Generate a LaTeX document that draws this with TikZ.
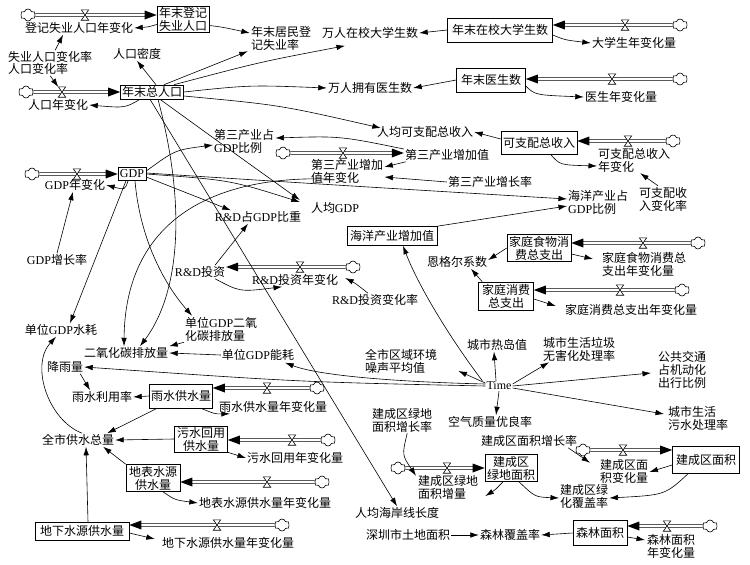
\documentclass[tikz,border=0pt]{standalone}
\usepackage{fontspec}
\setmainfont{Noto Sans CJK SC}
\newfontfamily\lat{Liberation Serif}
\usetikzlibrary{arrows.meta,shapes.symbols,calc}
\newcommand\dfs{\fontsize{12}{13}\selectfont}
\newcommand\gdpx{{\lat GDP}}
\newcommand\rdx{{\lat R\&D}}
\tikzset{
  lab/.style={font=\dfs, inner sep=1pt, align=center},
  stock/.style={draw, line width=0.6pt, inner sep=0pt, align=center, font=\dfs},
  pipe/.style={draw, double, double distance=2.6pt, line width=0.6pt},
  link/.style={-{Latex[length=8.5pt,width=5.5pt]}, line width=0.6pt},
  cloudn/.style={cloud, cloud puffs=6, aspect=1.3, draw, line width=0.6pt, minimum width=15pt, minimum height=12pt, inner sep=0pt, fill=white},
  valvebox/.style={inner sep=0pt, minimum width=7pt, minimum height=10pt}
}
\newcommand\pipeR[2]{\draw[pipe] (#1.east) -- ($(#1 -| #2.west)+(-10pt,0pt)$);
  \fill (#1 -| #2.west) -- ++(-12pt,4.5pt) -- ++(0pt,-9pt) -- cycle;}
\newcommand\pipeL[2]{\draw[pipe] (#1.west) -- ($(#1 -| #2.east)+(10pt,0pt)$);
  \fill (#1 -| #2.east) -- ++(12pt,4.5pt) -- ++(0pt,-9pt) -- cycle;}
\newcommand\valve[2]{\node[valvebox] (#1) at (#2) {};
  \filldraw[fill=white, line width=0.6pt] (#1.north west) -- (#1.north east) -- (#1.south west) -- (#1.south east) -- cycle;}
\begin{document}
\begin{tikzpicture}[x=1pt,y=-1pt]
\useasboundingbox[fill=white] (0,0) rectangle (750,565);
% ---------- stocks ----------
\node[stock, minimum width=52pt, minimum height=26pt] (sU) at (183,19.5) {年末登记\\失业人口};
\node[stock, minimum width=63pt, minimum height=14pt] (sP) at (152,92) {年末总人口};
\node[stock, minimum width=28pt, minimum height=13pt] (sG) at (132,174) {\gdpx};
\node[stock, minimum width=105pt, minimum height=24pt] (sS) at (500,30) {年末在校大学生数};
\node[stock, minimum width=69pt, minimum height=24pt] (sD) at (491,80) {年末医生数};
\node[stock, minimum width=76pt, minimum height=23pt] (sI) at (539,143) {可支配总收入};
\node[stock, minimum width=90pt, minimum height=19pt] (sO) at (392,236) {海洋产业增加值};
\node[stock, minimum width=64pt, minimum height=27pt] (sF) at (539,248) {家庭食物消\\费总支出};
\node[stock, minimum width=55pt, minimum height=28pt] (sC) at (506,296) {家庭消费\\总支出};
\node[stock, minimum width=63pt, minimum height=24pt] (sW1) at (181,396) {雨水供水量};
\node[stock, minimum width=53pt, minimum height=26pt] (sW2) at (201,439) {污水回用\\供水量};
\node[stock, minimum width=54pt, minimum height=27pt] (sW3) at (153,478) {地表水源\\供水量};
\node[stock, minimum width=94pt, minimum height=18pt] (sW4) at (82,531) {地下水源供水量};
\node[stock, minimum width=52pt, minimum height=27pt] (sGA) at (511,468) {建成区\\绿地面积};
\node[stock, minimum width=67pt, minimum height=27pt] (sBA) at (706,460) {建成区面积};
\node[stock, minimum width=54pt, minimum height=25pt] (sFo) at (600,533) {森林面积};
\node[lab] (sT) at (447,155) {第三产业增加值};
\node[lab] (sR) at (200,272) {\rdx 投资};
% ---------- clouds ----------
\node[cloudn] (cU) at (28,15) {};
\node[cloudn] (cP) at (26,92) {};
\node[cloudn] (cG) at (32,174) {};
\node[cloudn] (cS) at (680,25) {};
\node[cloudn] (cD) at (680,79) {};
\node[cloudn] (cI) at (673,141) {};
\node[cloudn] (cT) at (283,153) {};
\node[cloudn] (cR) at (353,267) {};
\node[cloudn] (cF) at (698,243) {};
\node[cloudn] (cC) at (682,290) {};
\node[cloudn] (cW1) at (317,388) {};
\node[cloudn] (cW2) at (328,440) {};
\node[cloudn] (cW3) at (322,482) {};
\node[cloudn] (cW4) at (282,525) {};
\node[cloudn] (cGA) at (398,468) {};
\node[cloudn] (cBA) at (583,450) {};
\node[cloudn] (cFo) at (710,526) {};
% ---------- pipes ----------
\pipeR{cU}{sU} \pipeR{cP}{sP} \pipeR{cG}{sG} \pipeR{cT}{sT}
\pipeR{cGA}{sGA} \pipeR{cBA}{sBA}
\pipeL{cS}{sS} \pipeL{cD}{sD} \pipeL{cI}{sI} \pipeL{cR}{sR}
\pipeL{cF}{sF} \pipeL{cC}{sC} \pipeL{cW1}{sW1} \pipeL{cW2}{sW2}
\pipeL{cW3}{sW3} \pipeL{cW4}{sW4} \pipeL{cFo}{sFo}
% ---------- valves ----------
\valve{vU}{85,15} \valve{vP}{62,92} \valve{vG}{77,174}
\valve{vS}{625,25} \valve{vD}{612,79} \valve{vI}{628,141}
\valve{vT}{343,153} \valve{vR}{300,267} \valve{vF}{643,243}
\valve{vC}{620,290} \valve{vW1}{267,388} \valve{vW2}{292,440}
\valve{vW3}{267,482} \valve{vW4}{217,525} \valve{vGA}{447,468}
\valve{vBA}{623,450} \valve{vFo}{667,526}
% ---------- labels ----------
\node[lab] (lUC) at (79,28) {登记失业人口年变化};
\node[lab, align=left] (lUR) at (281,38) {年末居民登\\记失业率};
\node[lab, anchor=west] (lUr) at (7,57) {失业人口变化率};
\node[lab, anchor=west] (lPr) at (7,69) {人口变化率};
\node[lab] (lPD) at (137,54) {人口密度};
\node[lab] (lPC) at (58,105) {人口年变化};
\node[lab] (lSt) at (370,33) {万人在校大学生数};
\node[lab] (lSC) at (634,43) {大学生年变化量};
\node[lab] (lDr) at (370,88) {万人拥有医生数};
\node[lab] (lDC) at (621,97) {医生年变化量};
\node[lab] (lIp) at (425,132) {人均可支配总收入};
\node[lab, align=left, anchor=west] (lIC) at (597,160) {可支配总收入\\年变化};
\node[lab, align=left] (lIr) at (663,199) {可支配收\\入变化率};
\node[lab, align=left, anchor=west] (lT3) at (213,141) {第三产业占\\\gdpx 比例};
\node[lab, align=left, anchor=west] (lTC) at (310,171) {第三产业增加\\值年变化};
\node[lab] (lTr) at (490,182) {第三产业增长率};
\node[lab] (lGC) at (75,185) {\gdpx 年变化};
\node[lab] (lGr) at (57,260) {\gdpx 增长率};
\node[lab] (lGp) at (335,208) {人均\gdpx};
\node[lab] (lRD) at (258,217) {\rdx 占\gdpx 比重};
\node[lab, align=left, anchor=west] (lOr) at (567,202) {海洋产业占\\\gdpx 比例};
\node[lab] (lRC) at (295,280) {\rdx 投资年变化};
\node[lab] (lRr) at (375,300) {\rdx 投资变化率};
\node[lab] (lWg) at (61,330) {单位\gdpx 水耗};
\node[lab, align=left, anchor=west] (lCu) at (184,329) {单位\gdpx 二氧\\化碳排放量};
\node[lab] (lCO) at (126,353) {二氧化碳排放量};
\node[lab] (lEn) at (258,355) {单位\gdpx 能耗};
\node[lab] (lRain) at (65,367) {降雨量};
\node[lab] (lRu) at (102,397) {雨水利用率};
\node[lab] (lW1C) at (273,407) {雨水供水量年变化量};
\node[lab] (lWt) at (78,440) {全市供水总量};
\node[lab, anchor=west] (lW2C) at (246,458) {污水回用年变化量};
\node[lab] (lW3C) at (265,503) {地表水源供水量年变化量};
\node[lab] (lW4C) at (228,543) {地下水源供水量年变化量};
\node[lab] (lEg) at (457,262) {恩格尔系数};
\node[lab, align=left, anchor=west] (lFC) at (601,264) {家庭食物消费总\\支出年变化量};
\node[lab] (lCC) at (631,310) {家庭消费总支出年变化量};
\node[lab] (tm) at (499,386) {\lat Time};
\node[lab] (lHI) at (497,345) {城市热岛值};
\node[lab] (lGb) at (579,349) {城市生活垃圾\\无害化处理率};
\node[lab, align=left, anchor=west] (lPT) at (657,370) {公共交通\\占机动化\\出行比例};
\node[lab, align=left, anchor=west] (lSw) at (667,418) {城市生活\\污水处理率};
\node[lab] (lAQ) at (490,422) {空气质量优良率};
\node[lab, align=left, anchor=west] (lNs) at (364,361) {全市区域环境\\噪声平均值};
\node[lab, align=left, anchor=west] (lGr2) at (371,420) {建成区绿地\\面积增长率};
\node[lab, align=left, anchor=west] (lGAC) at (417,487) {建成区绿地\\面积增量};
\node[lab] (lBr) at (529,441) {建成区面积增长率};
\node[lab, align=left, anchor=west] (lBAC) at (599,471) {建成区面\\积变化量};
\node[lab, align=left, anchor=west] (lGCv) at (559,496) {建成区绿\\化覆盖率};
\node[lab] (lCo) at (397,513) {人均海岸线长度};
\node[lab] (lLa) at (408,535) {深圳市土地面积};
\node[lab] (lFr) at (510,535) {森林覆盖率};
\node[lab, align=left, anchor=west] (lFoC) at (646,546) {森林面积\\年变化量};
\coordinate (arcS) at (330,179);
% ---------- links ----------
\draw[link] ([yshift=-5pt]sU.west) .. controls (148,27) .. (lUC.east);
\draw[link] ([yshift=-6pt]sU.east) .. controls (222,27) .. ([yshift=5pt]lUR.west);
\draw[link] ([xshift=5pt]lUr.north) -- ([xshift=-16pt]lUC.south);
\draw[link] ([xshift=12pt]lPr.south) -- (vP);
\draw[link] ([xshift=-12pt]sP.south) .. controls (125,108) .. (lPC.east);
\draw[link] ([xshift=4pt]sP.north) -- (lPD.south);
\draw[link] ([xshift=12pt]sP.north) -- ([xshift=-2pt]lUR.south west);
\draw[link] ([xshift=22pt]sP.north) .. controls (260,62) .. ([xshift=-25pt,yshift=-6pt]lSt.south);
\draw[link] (sP.east) .. controls (250,85) .. (lDr.west);
\draw[link] ([yshift=-4pt]sP.east) .. controls (280,105) .. ([xshift=5pt,yshift=4pt]lIp.west);
\draw[link] ([xshift=8pt]sP.south) .. controls (230,150) .. ([xshift=-10pt,yshift=8pt]lGp.west);
\draw[link] ([xshift=-2pt]sP.south) -- (lCo.north);
\draw[link] ([xshift=6pt]sP.south) .. controls (190,220) and (175,300) .. ([xshift=14pt]lCO.north);
\draw[link] ([yshift=4pt]sI.west) -- (lIp.east);
\draw[link] ([xshift=12pt]sI.south) .. controls (560,165) .. ([yshift=-6pt]lIC.west);
\draw[link] ([xshift=-5pt]lIr.north) -- ([xshift=6pt]lIC.south);
\draw[link] ([yshift=-5pt]sS.east) .. controls (565,40) .. (lSC.west);
\draw[link] (sS.west) -- (lSt.east);
\draw[link] (sD.west) -- (lDr.east);
\draw[link] ([yshift=-6pt]sD.east) .. controls (535,95) .. (lDC.west);
\draw[link] ([yshift=6pt]sT.west) .. controls (340,136) .. ([yshift=3pt]lT3.east);
\draw[link] ([xshift=2pt]sT.south west) -- ([yshift=4pt]lTC.east);
\draw[link] (lTr.west) -- ([yshift=-6pt]lTC.east);
\draw[link] ([xshift=-4pt]sG.south) .. controls (125,190) .. (lGC.east);
\draw[link] (lGr.north) -- ([xshift=-2pt]lGC.south);
\draw[link] ([yshift=3pt]sG.east) .. controls (175,150) .. ([yshift=-4pt]lT3.west);
\draw[link] (sG.east) .. controls (230,180) .. ([xshift=-10pt,yshift=6pt]lGp.west);
\draw[link] ([yshift=-3pt]sG.east) -- ([xshift=17pt]lRD.north west);
\draw[link] ([yshift=1pt]sG.east) .. controls (300,183) and (450,192) .. ([yshift=3pt]lOr.west);
\draw[link] (sO.north east) -- ([yshift=-4pt]lOr.west);
\draw[link] ([xshift=-3pt]tm.north west) .. controls (455,345) and (420,290) .. ([xshift=11pt]sO.south);
\draw[link] ([xshift=15pt]sR.north) -- ([xshift=-10pt]lRD.south);
\draw[link] ([xshift=15pt]sR.south) .. controls (240,292) .. ([xshift=-13pt]lRC.south);
\draw[link] ([xshift=-7pt]lRr.north) .. controls (355,283) .. ([xshift=6pt,yshift=2pt]lRC.east);
\draw[link] (arcS) .. controls (200,175) and (125,230) .. ([xshift=-2pt]lCO.north);
\draw[link] ([xshift=3pt]sG.south) .. controls (140,240) and (165,285) .. ([xshift=8pt]lCu.north west);
\draw[link] (lCu.south west) -- (lCO.north east);
\draw[link] (lEn.west) -- (lCO.east);
\draw[link] ([xshift=-6pt]sG.south) -- ([xshift=9pt]lWg.north);
\draw[link] ([yshift=2pt]tm.west) .. controls (400,382) and (320,376) .. ([xshift=-10pt,yshift=-1pt]lEn.south east);
\draw[link] (tm.west) .. controls (300,382) .. (lRain.east);
\draw[link] ([yshift=3pt]tm.west) -- ([xshift=20pt,yshift=-10pt]lNs.east);
\draw[link] ([xshift=-3pt]tm.north) -- ([xshift=-3pt]lHI.south);
\draw[link] ([yshift=2pt]tm.east) -- ([xshift=-30pt]lGb.south);
\draw[link] (tm.east) -- ([xshift=-6pt,yshift=-3pt]lPT.west);
\draw[link] ([yshift=-2pt]tm.east) -- ([xshift=-3pt,yshift=4pt]lSw.west);
\draw[link] (tm.south) -- ([xshift=6pt]lAQ.north);
\draw[link] ([xshift=-4pt]lRain.south east) -- ([xshift=-12pt]lRu.north);
\draw[link] (sW1.west) -- (lRu.east);
\draw[link] ([xshift=-12pt]sW1.south east) .. controls (215,414) .. ([xshift=12pt]lW1C.south west);
\draw[link] ([xshift=8pt]sW1.south west) -- ([xshift=-8pt]lWt.north east);
\draw[link] (sW2.west) -- (lWt.east);
\draw[link] (sW2.south east) -- (lW2C.west);
\draw[link] (sW3.north west) -- ([xshift=-12pt]lWt.south east);
\draw[link] ([xshift=10pt]sW3.south) .. controls (175,500) .. (lW3C.west);
\draw[link] ([xshift=6pt]sW4.north) -- ([xshift=8pt]lWt.south);
\draw[link] ([yshift=-2pt]sW4.east) -- ([xshift=-6pt,yshift=4pt]lW4C.west);
\draw[link] ([xshift=4pt]lWt.north) .. controls (48,420) and (30,365) .. ([xshift=-5pt]lWg.south);
\draw[link] (sF.west) -- ([yshift=2pt]lEg.east);
\draw[link] ([yshift=-6pt]sF.east) -- ([xshift=-8pt,yshift=5pt]lFC.west);
\draw[link] ([xshift=4pt]sC.north west) -- ([xshift=14pt]lEg.south);
\draw[link] ([yshift=-3pt]sC.east) -- ([xshift=-8pt,yshift=4pt]lCC.west);
\draw[link] ([xshift=5pt]lGr2.south) .. controls (402,455) .. ([xshift=-1pt,yshift=-2pt]lGAC.north west);
\draw[link] ([xshift=-8pt]sGA.south) .. controls (495,490) .. ([xshift=6pt,yshift=-9pt]lGAC.east);
\draw[link] ([xshift=-10pt]lBr.south east) -- ([xshift=-9pt,yshift=-5pt]lBAC.north west);
\draw[link] ([yshift=-5pt]sBA.west) -- ([yshift=-1pt]lBAC.east);
\draw[link] ([xshift=8pt]sGA.south) .. controls (535,497) .. ([yshift=-2pt]lGCv.west);
\draw[link] ([xshift=-18pt]sBA.south) .. controls (665,495) .. ([yshift=-2pt]lGCv.east);
\draw[link] (lLa.east) -- (lFr.west);
\draw[link] (sFo.west) -- (lFr.east);
\draw[link] ([yshift=-4pt]sFo.east) -- ([xshift=-1pt,yshift=6pt]lFoC.west);
\end{tikzpicture}
\end{document}
